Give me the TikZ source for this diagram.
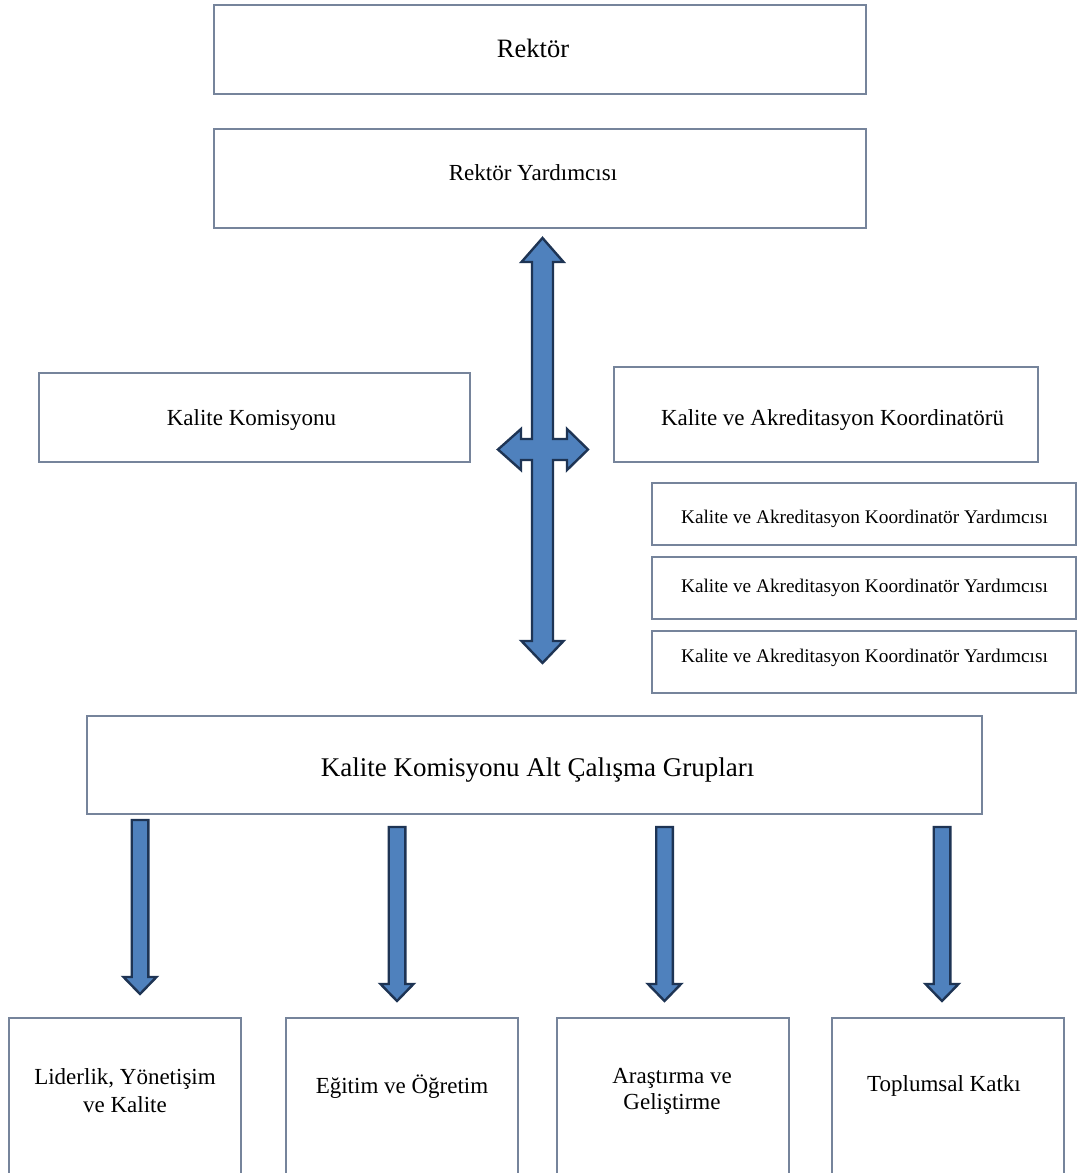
\documentclass[tikz,border=0pt]{standalone}
\usepackage{fontspec}
\setmainfont{Liberation Serif}
\definecolor{boxline}{RGB}{118,132,155}
\definecolor{arrfill}{RGB}{79,129,189}
\definecolor{arrline}{RGB}{30,52,84}
\begin{document}
\begin{tikzpicture}[x=1pt,y=-1pt,
  box/.style={draw=boxline,line width=1.6pt,fill=white,inner sep=0pt,rectangle},
  lbl/.style={inner sep=0pt,anchor=base,font=\fontsize{23}{28}\selectfont},
  mlbl/.style={inner sep=0pt,align=center,font=\fontsize{23}{28}\selectfont},
  smalllbl/.style={lbl,font=\fontsize{19.3}{23}\selectfont},
  blockarrow/.style={fill=arrfill,draw=arrline,line width=2.4pt,line join=miter},
  darrow/.pic={\path[blockarrow] (-8.3,0) -- (8.3,0) -- (8.3,157) -- (16.5,157) -- (0,174) -- (-16.5,157) -- (-8.3,157) -- cycle;}
]
\useasboundingbox (0,0) rectangle (1078,1173);
\clip (0,0) rectangle (1078,1173);
\fill[white] (0,0) rectangle (1078,1173);

% top boxes
\node[box,minimum width=652,minimum height=89] (rektor) at (540,49.5) {};
\node[lbl,font=\fontsize{26.5}{30}\selectfont] (rektorT) at (533,57) {Rektör};
\node[box,minimum width=652,minimum height=99] (ry) at (540,178.5) {};
\node[lbl] (ryT) at (533,180) {Rektör Yardımcısı};

% middle boxes
\node[box,minimum width=431,minimum height=89] (kk) at (254.5,417.5) {};
\node[lbl] (kkT) at (251.5,425.5) {Kalite Komisyonu};
\node[box,minimum width=424,minimum height=95] (kak) at (826,414.5) {};
\node[lbl] (kakT) at (832.5,425.5) {Kalite ve Akreditasyon Koordinatörü};

\node[box,minimum width=424,minimum height=62] (y1) at (864,514) {};
\node[smalllbl] (y1T) at (864.5,523) {Kalite ve Akreditasyon Koordinatör Yardımcısı};
\node[box,minimum width=424,minimum height=62] (y2) at (864,588) {};
\node[smalllbl] (y2T) at (864.5,592) {Kalite ve Akreditasyon Koordinatör Yardımcısı};
\node[box,minimum width=424,minimum height=62] (y3) at (864,662) {};
\node[smalllbl] (y3T) at (864.5,662) {Kalite ve Akreditasyon Koordinatör Yardımcısı};

% sub working groups
\node[box,minimum width=895,minimum height=98] (acg) at (534.5,765) {};
\node[lbl,font=\fontsize{27}{31}\selectfont] (acgT) at (537.5,776) {Kalite Komisyonu Alt Çalışma Grupları};

% bottom boxes
\node[box,minimum width=232,minimum height=172] (b1) at (125,1104) {};
\node[mlbl] (b1T) at (125,1091) {Liderlik, Yönetişim\\ve Kalite};
\node[box,minimum width=232,minimum height=172] (b2) at (402,1104) {};
\node[lbl] (b2T) at (402,1093) {Eğitim ve Öğretim};
\node[box,minimum width=232,minimum height=172] (b3) at (673,1104) {};
\node[mlbl,font=\fontsize{23}{26}\selectfont] (b3T) at (672,1091) {Araştırma ve\\Geliştirme};
\node[box,minimum width=232,minimum height=172] (b4) at (948,1104) {};
\node[lbl] (b4T) at (944,1091) {Toplumsal Katkı};

% cross arrow
\path[blockarrow] (542.5,238) -- (563.5,262) -- (553,262) -- (553,439) -- (567,439) -- (567,429)
  -- (588,449.5) -- (567,470) -- (567,460) -- (553,460) -- (553,641) -- (563.5,641)
  -- (542.5,663) -- (521.5,641) -- (532,641) -- (532,460) -- (521,460) -- (521,470)
  -- (498,449.5) -- (521,429) -- (521,439) -- (532,439) -- (532,262) -- (521.5,262) -- cycle;

% down arrows
\pic at (140,820) {darrow};
\pic at (397,827) {darrow};
\pic at (664.5,827) {darrow};
\pic at (942,827) {darrow};
\end{tikzpicture}
\end{document}
